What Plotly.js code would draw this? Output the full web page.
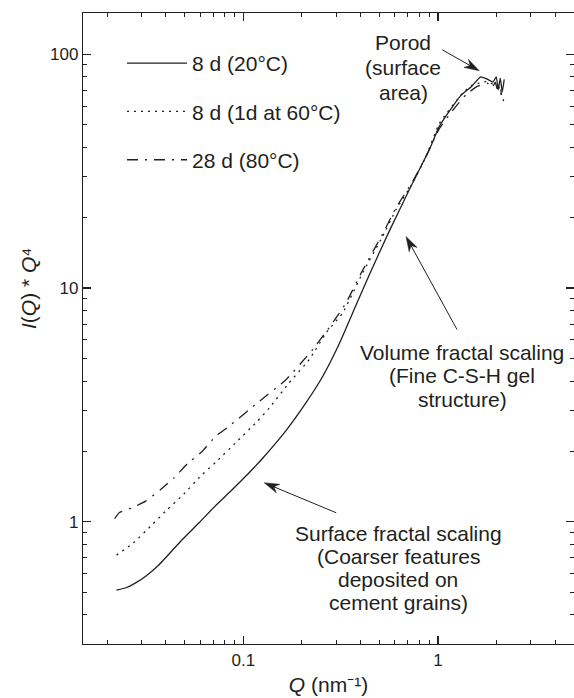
<!DOCTYPE html>
<html>
<head>
<meta charset="utf-8">
<script src="https://cdn.plot.ly/plotly-3.0.1.min.js"></script>
<style>html,body{margin:0;padding:0;background:#fff;}#chart{width:574px;height:698px;}</style>
</head>
<body>
<div id="chart"></div>
<script>
// ---- data ----
var seriesNames = ['8 d (20\u00B0C)', '8 d (1d at 60\u00B0C)', '28 d (80\u00B0C)'];

var q20 = [0.0223, 0.0250, 0.0281, 0.0316, 0.0370, 0.0486, 0.0592, 0.0721, 0.0878, 0.107, 0.125, 0.166, 0.210, 0.256, 0.311, 0.379, 0.444, 0.562, 0.712, 0.902, 1.016, 1.188, 1.317, 1.483, 1.655, 1.77, 1.917, 1.993, 2.04, 2.09, 2.14, 2.19];
var i20 = [0.510, 0.522, 0.549, 0.586, 0.657, 0.840, 0.990, 1.174, 1.374, 1.62, 1.86, 2.46, 3.23, 4.19, 5.77, 8.43, 11.4, 17.5, 26.3, 39.0, 49.1, 59.7, 66.8, 72.5, 80.0, 78.6, 76.1, 80.0, 70.4, 79.0, 69.0, 78.0];

var q60 = [0.0223, 0.0269, 0.0341, 0.0407, 0.0486, 0.0603, 0.0721, 0.0913, 0.118, 0.136, 0.172, 0.218, 0.266, 0.324, 0.41, 0.519, 0.6085, 0.74, 0.868, 1.016, 1.338, 1.505, 1.63, 1.764, 1.872, 2.0, 2.1, 2.2];
var i60 = [0.72, 0.805, 0.974, 1.129, 1.295, 1.566, 1.798, 2.176, 2.69, 3.07, 3.93, 4.94, 6.42, 7.82, 11.6, 16.6, 21.6, 28.1, 36.5, 50.5, 68.1, 73.9, 75.2, 76.4, 75.2, 72.0, 68.0, 61.5];

var q80 = [0.0218, 0.0230, 0.0269, 0.0315, 0.0376, 0.0441, 0.0516, 0.0616, 0.0721, 0.0845, 0.121, 0.166, 0.227, 0.2875, 0.337, 0.41, 0.519, 0.6085, 0.74, 0.868, 1.016, 1.2, 1.39, 1.6, 1.8, 1.9, 1.97, 2.03, 2.08, 2.12];
var i80 = [1.03, 1.093, 1.148, 1.225, 1.374, 1.542, 1.77, 2.003, 2.322, 2.562, 3.277, 4.06, 5.45, 7.09, 8.63, 11.9, 17.0, 22.0, 28.5, 36.5, 48.0, 58.0, 67.0, 73.0, 75.0, 72.0, 76.0, 69.0, 74.0, 67.0];

var xTickVals = [0.1, 1];
var xTickText = ['0.1', '1'];
var xMinorVals = [0.02, 0.03, 0.04, 0.05, 0.06, 0.07, 0.08, 0.09, 0.2, 0.3, 0.4, 0.5, 0.6, 0.7, 0.8, 0.9, 2, 3, 4];
var yTickVals = [1, 10, 100];
var yTickText = ['1', '10', '100'];
var yMinorVals = [0.3, 0.4, 0.5, 0.6, 0.7, 0.8, 0.9, 2, 3, 4, 5, 6, 7, 8, 9, 20, 30, 40, 50, 60, 70, 80, 90];

var xTitle = '<i>Q</i> (nm\u207B\u00B9)';
var yTitle = '<i>I</i>(<i>Q</i>) * <i>Q</i>\u2074';
var porodText = ['Porod', '(surface', 'area)'];
var volumeText = ['Volume fractal scaling', '(Fine C-S-H gel', 'structure)'];
var surfaceText = ['Surface fractal scaling', '(Coarser features', 'deposited on', 'cement grains)'];

// ---- chart ----
var FONT = 'Liberation Sans, Arial, Helvetica, sans-serif';
var INK = '#231f20';
var W = 574, H = 698, ML = 83, MR = 0, MT = 13, MB = 54;
var PW = W - ML - MR, PH = H - MT - MB;
var XR = [Math.log10(0.015), Math.log10(5)];
var YR = [Math.log10(0.3), Math.log10(150)];
function px2paperX(px) { return (px - ML) / PW; }
function px2paperY(py) { return (H - MB - py) / PH; }
function dataPx(q, v) {
  return [ML + (Math.log10(q) - XR[0]) / (XR[1] - XR[0]) * PW,
          MT + (YR[1] - Math.log10(v)) / (YR[1] - YR[0]) * PH];
}

var dashes = ['solid', '2px,5px', '11px,7px,2px,7px'];
var xs = [q20, q60, q80], ys = [i20, i60, i80];
var traces = xs.map(function (xv, k) {
  return {
    x: xv, y: ys[k], type: 'scatter', mode: 'lines', name: seriesNames[k],
    legendgroup: 'g' + k,
    line: { color: INK, width: 1.3, dash: dashes[k], shape: 'spline', smoothing: 0.4 }
  };
});

var annotations = [];
function addBlock(lines, cxPx, firstYPx, spacing) {
  lines.forEach(function (t, i) {
    annotations.push({
      xref: 'paper', yref: 'paper', x: px2paperX(cxPx), y: px2paperY(firstYPx + i * spacing),
      xanchor: 'center', yanchor: 'middle', text: t, showarrow: false,
      font: { family: FONT, size: 21, color: INK }
    });
  });
}
addBlock(porodText, 403, 43, 24.5);
addBlock(volumeText, 462, 352, 23.7);
addBlock(surfaceText, 398, 533, 23.2);

// arrows drawn as shapes (line + barbed filled head), tip in data space, tail offset in px
var shapes = [];
function P(x, y) { return px2paperX(x).toFixed(5) + ',' + px2paperY(y).toFixed(5); }
function addArrow(q, v, dx, dy) {
  var tip = dataPx(q, v);
  var tail = [tip[0] + dx, tip[1] + dy];
  var L = Math.hypot(tip[0] - tail[0], tip[1] - tail[1]);
  var ux = (tip[0] - tail[0]) / L, uy = (tip[1] - tail[1]) / L;
  var nx = -uy, ny = ux;
  var hl = 15, hw = 4.6, notch = 10.5;
  var b1 = [tip[0] - hl * ux + hw * nx, tip[1] - hl * uy + hw * ny];
  var b2 = [tip[0] - hl * ux - hw * nx, tip[1] - hl * uy - hw * ny];
  var nb = [tip[0] - notch * ux, tip[1] - notch * uy];
  shapes.push({
    type: 'line', xref: 'paper', yref: 'paper',
    x0: px2paperX(tail[0]), y0: px2paperY(tail[1]), x1: px2paperX(nb[0]), y1: px2paperY(nb[1]),
    line: { color: INK, width: 1 }
  });
  shapes.push({
    type: 'path', xref: 'paper', yref: 'paper',
    path: 'M' + P(tip[0], tip[1]) + 'L' + P(b1[0], b1[1]) + 'L' + P(nb[0], nb[1]) + 'L' + P(b2[0], b2[1]) + 'Z',
    fillcolor: INK, line: { color: INK, width: 0.5 }
  });
}
addArrow(1.63, 84.9, -37, -21);
addArrow(0.685, 16.6, 51, 93);
addArrow(0.128, 1.468, 72, 30);

// y-axis title (placed as annotation to match its offset position)
annotations.push({
  xref: 'paper', yref: 'paper', x: px2paperX(28), y: px2paperY(289),
  xanchor: 'center', yanchor: 'middle', textangle: -90, showarrow: false,
  text: yTitle,
  font: { family: FONT, size: 21, color: INK }
});

var axisCommon = {
  type: 'log', showgrid: false, zeroline: false, showline: true,
  linecolor: INK, linewidth: 1.2, mirror: 'allticks',
  ticks: 'inside', ticklen: 8, tickwidth: 1.2, tickcolor: INK,
  tickfont: { family: FONT, size: 17, color: INK }
};

var layout = {
  width: W, height: H,
  margin: { l: ML, r: MR, t: MT, b: MB, pad: 0 },
  paper_bgcolor: '#fff', plot_bgcolor: '#fff',
  font: { family: FONT, color: INK },
  showlegend: true,
  legend: {
    x: px2paperX(122), y: px2paperY(43), xanchor: 'left', yanchor: 'top',
    bgcolor: 'rgba(0,0,0,0)', borderwidth: 0, itemwidth: 60, tracegroupgap: 18,
    font: { family: FONT, size: 21, color: INK }
  },
  xaxis: Object.assign({}, axisCommon, {
    range: XR,
    tickmode: 'array', tickvals: xTickVals, ticktext: xTickText,
    minor: { tickmode: 'array', tickvals: xMinorVals, ticks: 'inside', ticklen: 4, tickwidth: 1, tickcolor: INK },
    title: { text: xTitle, font: { family: FONT, size: 21, color: INK }, standoff: 8 }
  }),
  yaxis: Object.assign({}, axisCommon, {
    range: YR,
    tickmode: 'array', tickvals: yTickVals, ticktext: yTickText,
    minor: { tickmode: 'array', tickvals: yMinorVals, ticks: 'inside', ticklen: 4, tickwidth: 1, tickcolor: INK }
  }),
  shapes: shapes,
  annotations: annotations
};

Plotly.newPlot('chart', traces, layout, { displayModeBar: false, staticPlot: true });
</script>
</body>
</html>
